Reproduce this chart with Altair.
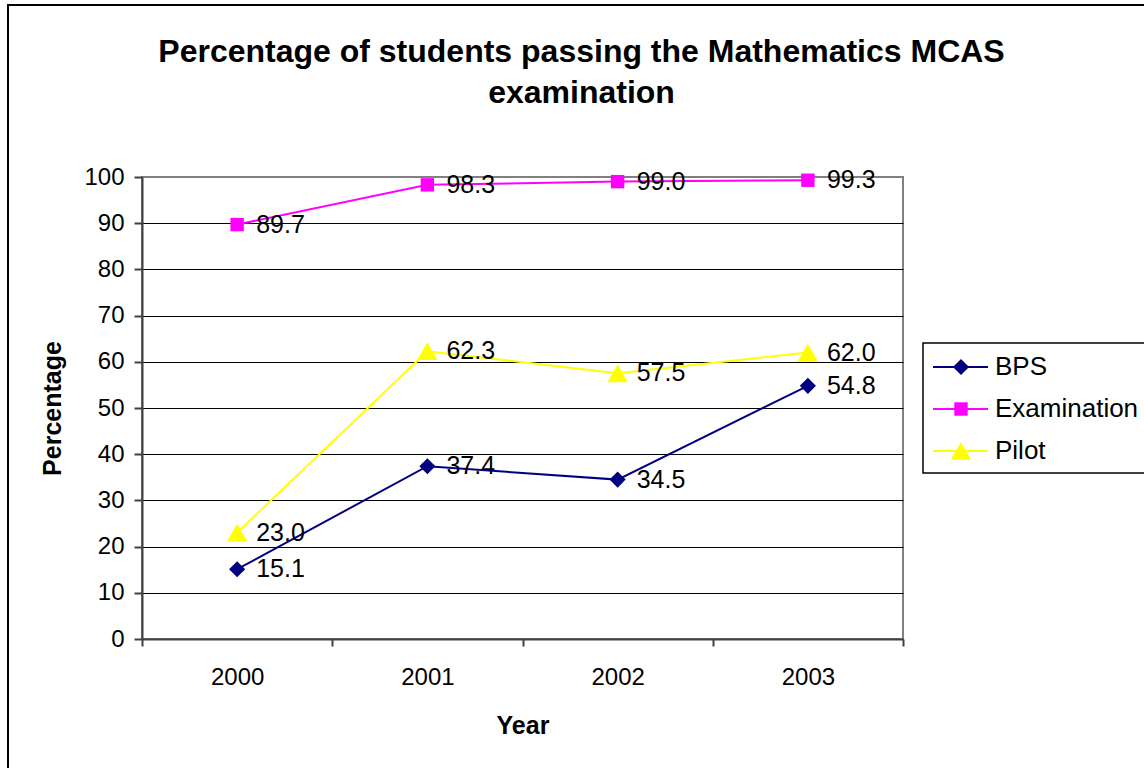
import altair as alt
import pandas as pd

years = ["2000", "2001", "2002", "2003"]
series_names = ["BPS", "Examination", "Pilot"]
bps = [15.1, 37.4, 34.5, 54.8]
examination = [89.7, 98.3, 99.0, 99.3]
pilot = [23.0, 62.3, 57.5, 62.0]
y_ticks = [0, 10, 20, 30, 40, 50, 60, 70, 80, 90, 100]
colors = ["#000080", "#FF00FF", "#FFFF00"]
shapes = ["diamond", "square", "triangle-up"]
marker_sizes = [260, 180, 420]

rows = []
for name, vals in zip(series_names, [bps, examination, pilot]):
    for yr, v in zip(years, vals):
        rows.append({"series": name, "year": yr, "value": v})
df = pd.DataFrame(rows)
legend_df = pd.DataFrame({"series": series_names})
one_df = pd.DataFrame({"k": [0]})

FONT = "Liberation Sans"

color_enc = alt.Color("series:N", scale=alt.Scale(domain=series_names, range=colors), legend=None)
shape_enc = alt.Shape("series:N", scale=alt.Scale(domain=series_names, range=shapes), legend=None)

x_enc = alt.X(
    "year:O",
    sort=years,
    scale=alt.Scale(type="band", paddingInner=0, paddingOuter=0),
    axis=alt.Axis(
        title="Year", tickBand="extent", labelAngle=0, labelFontSize=24,
        labelColor="black", labelPadding=19, tickSize=7, tickColor="#404040",
        tickWidth=2, domainColor="#404040", domainWidth=2,
        titleFontSize=25, titleFontWeight="bold", titlePadding=24, titleColor="black",
        grid=False,
    ),
)
y_enc = alt.Y(
    "value:Q",
    scale=alt.Scale(domain=[0, 100], nice=False, zero=True),
    axis=alt.Axis(
        title="Percentage", values=y_ticks, labelFontSize=24, labelColor="black",
        labelPadding=10, tickSize=8, tickColor="#404040", tickWidth=2,
        domainColor="#404040", domainWidth=2,
        gridColor={"condition": {"test": "datum.value === 100", "value": "#808080"}, "value": "black"},
        gridWidth=1,
        titleFontSize=25, titleFontWeight="bold", titlePadding=18, titleColor="black",
    ),
)

line = alt.Chart(df).mark_line(strokeWidth=2).encode(x=x_enc, y=y_enc, color=color_enc)
point_layers = []
for name, sz in zip(series_names, marker_sizes):
    point_layers.append(
        alt.Chart(df).transform_filter(alt.datum.series == name)
        .mark_point(filled=True, opacity=1, size=sz)
        .encode(x=x_enc, y=y_enc, color=color_enc, shape=shape_enc)
    )
labels = alt.Chart(df).mark_text(
    align="left", baseline="middle", dx=19, fontSize=25, font=FONT, color="black"
).encode(x=x_enc, y=y_enc, text=alt.Text("value:Q", format=".1f"))

main = alt.layer(line, *point_layers, labels)

frame = alt.Chart(one_df).mark_rect(fill="white", fillOpacity=0, stroke="black", strokeWidth=2).encode(
    x=alt.value(-134), x2=alt.value(1020), y=alt.value(-172), y2=alt.value(600)
)

leg_y = alt.Y("series:N", sort=series_names,
              scale=alt.Scale(type="point", domain=series_names, range=[190, 274], padding=0),
              axis=None)
leg_box = alt.Chart(one_df).mark_rect(fill="white", stroke="black", strokeWidth=1.5).encode(
    x=alt.value(781), x2=alt.value(1020), y=alt.value(166), y2=alt.value(296)
)
leg_line = alt.Chart(legend_df).mark_rule(strokeWidth=2).encode(
    x=alt.value(791), x2=alt.value(846), y=leg_y, color=color_enc
)
leg_pts = []
for name, sz in zip(series_names, marker_sizes):
    leg_pts.append(
        alt.Chart(legend_df).transform_filter(alt.datum.series == name)
        .mark_point(filled=True, opacity=1, size=sz)
        .encode(x=alt.value(819), y=leg_y, color=color_enc, shape=shape_enc)
    )
leg_txt = alt.Chart(legend_df).mark_text(
    align="left", baseline="middle", fontSize=26, font=FONT, color="black"
).encode(x=alt.value(853), y=leg_y, text="series:N")
legend = alt.layer(leg_box, leg_line, *leg_pts, leg_txt)

chart = alt.layer(frame, main, legend).resolve_scale(y="independent").properties(
    width=761,
    height=462,
    autosize=alt.AutoSizeParams(type="none"),
    padding={"left": 142, "top": 177, "right": 241, "bottom": 129},
    title=alt.TitleParams(
        ["Percentage of students passing the Mathematics MCAS", "examination"],
        fontSize=32, font=FONT, fontWeight="bold", anchor="middle", dx=59,
        lineHeight=41, offset=-106, color="black",
    ),
).configure(font=FONT).configure_view(stroke="#808080", strokeWidth=2)

chart.save("out.html", embed_options={"renderer": "svg", "actions": False})
